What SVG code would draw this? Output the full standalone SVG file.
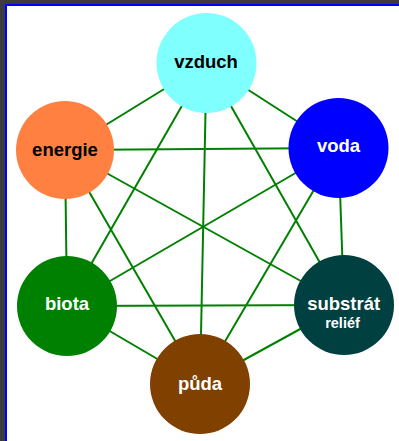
<svg xmlns="http://www.w3.org/2000/svg" width="399" height="441" viewBox="0 0 399 441">
<style>
.n{stroke:none}
.t{font-family:"Liberation Sans",Arial,sans-serif;font-weight:bold;font-size:18.5px;text-anchor:middle}
.d{fill:#000}
.w{fill:#fff}
#edges line{stroke:#008000;stroke-width:2}
</style>
<rect x="0" y="0" width="399" height="441" fill="#3c3c3c"/>
<rect x="6" y="5" width="400" height="440" fill="#fff" stroke="#0000ff" stroke-width="2"/>
<g id="edges">
<line x1="206.5" y1="63" x2="338.5" y2="148"/>
<line x1="206.5" y1="63" x2="65" y2="150"/>
<line x1="206.5" y1="63" x2="67" y2="306"/>
<line x1="206.5" y1="63" x2="344" y2="305"/>
<line x1="206.5" y1="63" x2="200" y2="384"/>
<line x1="65" y1="150" x2="338.5" y2="148"/>
<line x1="65" y1="150" x2="67" y2="306"/>
<line x1="65" y1="150" x2="344" y2="305"/>
<line x1="65" y1="150" x2="200" y2="384"/>
<line x1="338.5" y1="148" x2="67" y2="306"/>
<line x1="338.5" y1="148" x2="344" y2="305"/>
<line x1="338.5" y1="148" x2="200" y2="384"/>
<line x1="67" y1="306" x2="344" y2="305"/>
<line x1="67" y1="306" x2="200" y2="384"/>
<line x1="344" y1="305" x2="200" y2="384"/>
</g>
<g id="vzduch"><circle class="n" cx="206.5" cy="63" r="50" fill="#80ffff"/><text class="t d" x="206" y="67.5">vzduch</text></g>
<g id="energie"><circle class="n" cx="65" cy="150" r="49" fill="#ff8040"/><text class="t d" x="65" y="156">energie</text></g>
<g id="voda"><circle class="n" cx="338.5" cy="148" r="50" fill="#0000ff"/><text class="t w" x="338.5" y="152">voda</text></g>
<g id="biota"><circle class="n" cx="67" cy="306" r="50" fill="#008000"/><text class="t w" x="67" y="310">biota</text></g>
<g id="substrat"><circle class="n" cx="344" cy="305" r="50" fill="#004040"/><text class="t w" x="343.7" y="310">substrát</text><text class="t w" x="342.5" y="328" style="font-size:14.5px">reliéf</text></g>
<g id="puda"><circle class="n" cx="200" cy="384" r="50" fill="#804000"/><text class="t w" x="200" y="390">půda</text></g>
</svg>
